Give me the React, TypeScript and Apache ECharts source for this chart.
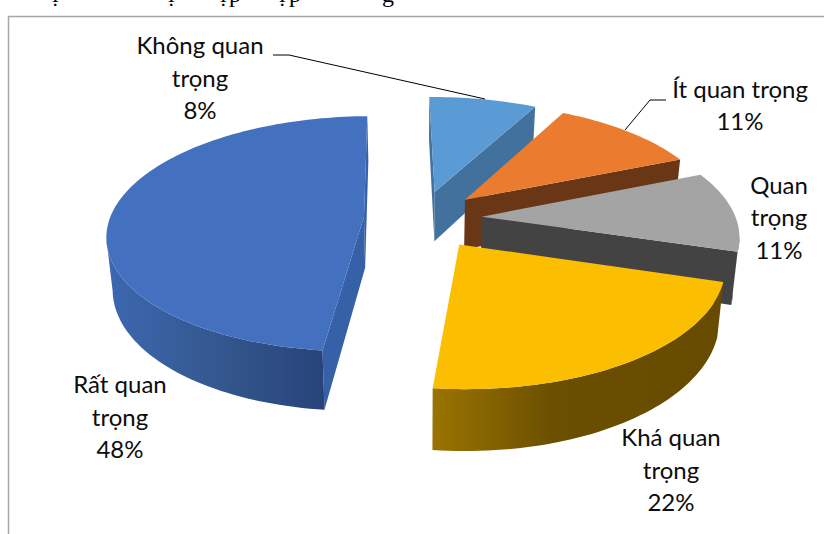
import React, { useEffect, useRef } from "react";
import * as echarts from "echarts";

// Importance ratings, listed clockwise starting from the largest slice.
const categories = ["Rất quan trọng", "Không quan trọng", "Ít quan trọng", "Quan trọng", "Khá quan trọng"];
const shares = [48, 8, 11, 11, 22];
const wrapLabel = [true, true, false, true, true];
const topColors = ["#4371C0", "#5B9BD5", "#EB7C2F", "#A4A4A4", "#FCBE00"];
const wallColors = ["#3660A8", "#41719C", "#693616", "#434343", "#6A4E00"];
const rimStops: [number, string][][] = [
  [[0, "#3D67B1"], [0.5, "#34588F"], [1, "#27437A"]],
  [[0, "#41719C"], [1, "#41719C"]],
  [[0, "#693616"], [1, "#693616"]],
  [[0, "#434343"], [1, "#434343"]],
  [[0, "#9A7400"], [0.42, "#6B4F00"], [1, "#664B00"]],
];
// How far each slice is pulled out of the disc, as a share of the radius.
const explosion = [0.225, 0.24, 0.24, 0.24, 0.265];

// Text placement: centre of each label block.
const labelCentres = [
  [120, 416],
  [200, 77],
  [740, 104.5],
  [779, 216.5],
  [671, 469],
];
const leaderLines = [
  [[273, 55], [289, 55], [485, 99]],
  [[666, 100], [650, 100], [625, 130]],
];
// Descenders of the caption line that is cut off by the page's top edge.
const captionBits: [string, number][] = [["ị", 52], ["ị", 168], ["ị", 220], ["p", 229], ["ị", 279], ["p", 289], ["g", 382]];

// Tilted-disc projection parameters.
const CX = 421;
const CY = 218;
const RX = 254;
const RY = 115.5;
const PERSPECTIVE = 0.144;
const THICKNESS = 51;
const CONVERGE = 0.98;
const FIRST_ANGLE = -173.8;

const rad = (d: number) => (d * Math.PI) / 180;

type P = { x: number; y: number; w: number };

const project = (X: number, Y: number): P => {
  const w = 1 - PERSPECTIVE * Y;
  return { x: CX + (RX * X) / w, y: CY + (RY * Y) / w, w };
};
const drop = (p: P): number[] => [CX + (p.x - CX) * CONVERGE, p.y + THICKNESS / p.w];
const xy = (p: P): number[] => [p.x, p.y];

const total = shares.reduce((a, b) => a + b, 0);

function renderSlice(params: any, api: any) {
  const i = params.dataIndex;
  let start = FIRST_ANGLE;
  for (let k = 0; k < i; k++) start += (shares[k] / total) * 360;
  const sweep = (api.value(0) / total) * 360;
  const end = start + sweep;
  const mid = rad(start + sweep / 2);
  const ox = explosion[i] * Math.sin(mid);
  const oy = -explosion[i] * Math.cos(mid);
  const apex = project(ox, oy);

  const rimAt = (deg: number) => project(ox + Math.sin(rad(deg)), oy - Math.cos(rad(deg)));
  const steps = Math.max(4, Math.ceil(sweep / 1.5));
  const rim: P[] = [];
  for (let s = 0; s <= steps; s++) rim.push(rimAt(start + (sweep * s) / steps));
  const inner = rimAt(start + sweep / 2);

  const children: any[] = [];

  // Straight walls along both cut edges, only when they face the viewer.
  [rimAt(start), rimAt(end)].forEach((r) => {
    const ax = r.x - apex.x;
    const ay = r.y - apex.y;
    const toInner = ax * (inner.y - apex.y) - ay * (inner.x - apex.x);
    if (toInner * ax < 0) {
      children.push({
        type: "polygon",
        shape: { points: [xy(apex), xy(r), drop(r), drop(apex)] },
        style: { fill: wallColors[i] },
      });
    }
  });

  // Outer curved wall: the stretch of rim whose screen x runs leftward faces front.
  const front: P[] = [];
  for (let s = 0; s < rim.length - 1; s++) {
    if (rim[s + 1].x < rim[s].x) {
      if (!front.length) front.push(rim[s]);
      front.push(rim[s + 1]);
    }
  }
  if (front.length > 1) {
    children.push({
      type: "polygon",
      shape: { points: [...front.map(xy), ...[...front].reverse().map(drop)] },
      style: {
        fill: new echarts.graphic.LinearGradient(
          0, 0, 1, 0,
          rimStops[i].map(([offset, color]) => ({ offset, color }))
        ),
      },
    });
  }

  // Top face.
  children.push({
    type: "polygon",
    shape: { points: [xy(apex), ...rim.map(xy)] },
    style: { fill: topColors[i] },
  });

  return { type: "group", children };
}

const labelFont = "Lato, 'Noto Sans', sans-serif";

const sliceLabels = categories.map((name, i) => {
  const cut = name.lastIndexOf(" ");
  const wrapped = wrapLabel[i] ? `${name.slice(0, cut)}\n${name.slice(cut + 1)}` : name;
  return {
    type: "text",
    z: 10,
    style: {
      text: `${wrapped}\n${shares[i]}%`,
      x: labelCentres[i][0],
      y: labelCentres[i][1],
      align: "center",
      verticalAlign: "middle",
      fontFamily: labelFont,
      fontSize: 24,
      lineHeight: 32.5,
      fill: "#0D0D0D",
    },
  };
});

export default function App() {
  const ref = useRef<HTMLDivElement>(null);

  useEffect(() => {
    document.body.style.margin = "0";
    const chart = echarts.init(ref.current!, undefined, { renderer: "svg" });
    chart.setOption({
      animation: false,
      backgroundColor: "#FFFFFF",
      graphic: [
        {
          type: "polyline",
          z: 1,
          shape: { points: [[8.5, 540], [8.5, 16.5], [830, 16.5]] },
          style: { stroke: "#A6A6A6", lineWidth: 1.5, fill: "none" },
        },
        ...captionBits.map(([text, x]) => ({
          type: "text",
          z: 1,
          style: {
            text,
            x,
            y: 6,
            align: "left",
            verticalAlign: "bottom",
            fontFamily: "'Liberation Serif', serif",
            fontSize: 24,
            fill: "#000000",
          },
        })),
        ...leaderLines.map((points) => ({
          type: "polyline",
          z: 10,
          shape: { points },
          style: { stroke: "#000000", lineWidth: 1, fill: "none" },
        })),
        ...sliceLabels,
      ],
      series: [
        {
          type: "custom",
          coordinateSystem: "none",
          silent: true,
          z: 5,
          data: shares.map((v, i) => ({ name: categories[i], value: [v] })),
          renderItem: renderSlice,
        },
      ],
    });
    return () => chart.dispose();
  }, []);

  return <div ref={ref} style={{ width: 824, height: 534, position: "absolute", left: 0, top: 0 }} />;
}
